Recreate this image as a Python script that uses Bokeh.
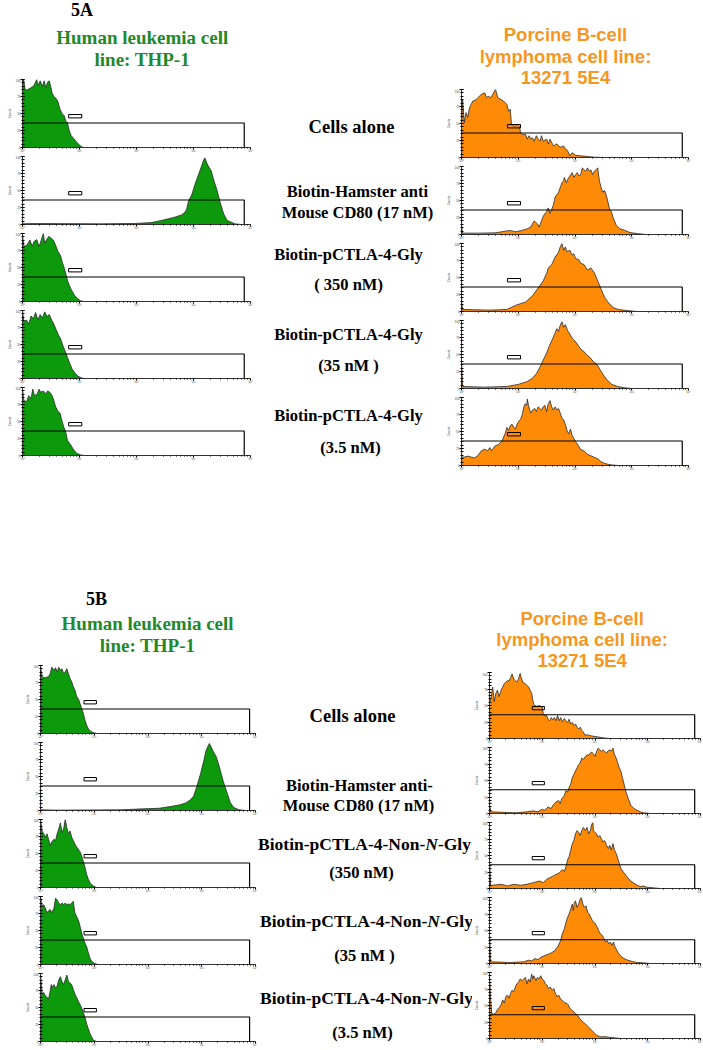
from bokeh.plotting import figure
from bokeh.layouts import row, column
from bokeh.models import Range1d, FixedTicker
from bokeh.core.properties import value
from bokeh.embed import file_html
from bokeh.resources import INLINE

# ---------------- data: (log10 fluorescence, % of max count) ----------------
a_thp1_cells = [(0, 92), (0.02, 100), (0.05, 84), (0.11, 86), (0.17, 89), (0.2, 91), (0.25, 100), (0.27, 91),
                (0.31, 98), (0.35, 90), (0.38, 98), (0.41, 88), (0.44, 96), (0.47, 98), (0.5, 88), (0.52, 80),
                (0.55, 75), (0.58, 73), (0.62, 68), (0.66, 56), (0.7, 49), (0.73, 47), (0.76, 39), (0.79, 36),
                (0.82, 25), (0.85, 18), (0.9, 13), (0.94, 9), (0.98, 5), (1.03, 1.5), (1.07, 0), (4, 0)]
a_thp1_cd80 = [(0, 1), (0.2, 1.4), (1.38, 1), (1.97, 1.5), (2.26, 2.8), (2.44, 6), (2.56, 8.5), (2.67, 10.8),
               (2.79, 14), (2.85, 18), (2.88, 22.5), (2.91, 34), (2.97, 44), (3.03, 60), (3.09, 74), (3.15, 88),
               (3.18, 95), (3.2, 98), (3.23, 91), (3.26, 86), (3.31, 79), (3.35, 67), (3.41, 51), (3.47, 32),
               (3.53, 15.5), (3.59, 6), (3.68, 2.8), (3.73, 0.9), (3.85, 0), (4, 0)]
a_thp1_gly350 = [(0, 98), (0.024, 81), (0.08, 83), (0.13, 90.5), (0.17, 81), (0.2, 88), (0.25, 91), (0.29, 81),
                 (0.32, 88), (0.365, 100), (0.39, 86), (0.42, 90.5), (0.465, 96), (0.5, 93), (0.54, 90.5),
                 (0.58, 83), (0.62, 74), (0.67, 67), (0.7, 57), (0.73, 50), (0.76, 40.5), (0.79, 31), (0.82, 24),
                 (0.86, 16.7), (0.91, 9.5), (0.97, 3.8), (1.02, 1), (1.08, 0), (4, 0)]
a_thp1_gly35 = [(0, 100), (0.024, 84), (0.07, 86), (0.11, 80), (0.15, 92), (0.19, 88), (0.23, 97), (0.27, 86),
                (0.31, 94), (0.35, 89), (0.39, 98), (0.43, 91), (0.47, 94), (0.51, 86), (0.55, 80), (0.59, 72),
                (0.63, 64), (0.67, 58), (0.71, 48), (0.75, 40), (0.79, 31), (0.83, 22), (0.87, 14), (0.92, 8),
                (0.97, 3.5), (1.03, 1), (1.08, 0), (4, 0)]
a_thp1_gly3_5 = [(0, 97.6), (0.024, 81), (0.07, 79), (0.11, 88), (0.15, 83.5), (0.18, 97.6), (0.21, 88),
                 (0.26, 90.6), (0.29, 97.6), (0.32, 93), (0.365, 95), (0.41, 90.6), (0.44, 95), (0.48, 93),
                 (0.52, 88), (0.55, 81), (0.58, 72), (0.62, 65), (0.66, 62), (0.68, 55), (0.72, 43), (0.76, 34),
                 (0.79, 22), (0.85, 15), (0.9, 8), (0.95, 3.3), (1.02, 0.9), (1.08, 0), (4, 0)]

a_5e4_cells = [(0, 50), (0.02, 85), (0.05, 51), (0.08, 66), (0.11, 59), (0.14, 73), (0.17, 78), (0.2, 83),
               (0.26, 85), (0.29, 88), (0.35, 93), (0.41, 95), (0.44, 88), (0.47, 90), (0.52, 88), (0.55, 93),
               (0.6, 100), (0.64, 88), (0.7, 85), (0.74, 83), (0.8, 78), (0.83, 68), (0.86, 71), (0.88, 49),
               (0.93, 46), (0.98, 49), (1.02, 46), (1.04, 37), (1.07, 34), (1.13, 34), (1.16, 27), (1.19, 32),
               (1.22, 27), (1.25, 29), (1.28, 24), (1.32, 32), (1.35, 27), (1.38, 24), (1.41, 32), (1.44, 24),
               (1.5, 27), (1.53, 20), (1.56, 27), (1.62, 17), (1.68, 20), (1.74, 15), (1.8, 17), (1.83, 13),
               (1.87, 10), (1.91, 2.4), (1.95, 7), (2.01, 3.4), (2.1, 2.4), (2.22, 1.5), (2.34, 0.5), (2.52, 0),
               (4, 0)]
a_5e4_cd80 = [(0, 13), (0.02, 2), (0.3, 2), (0.6, 2.5), (0.85, 6), (0.95, 4), (1.07, 6), (1.16, 8.5), (1.22, 11),
              (1.28, 20), (1.34, 15.5), (1.37, 11), (1.44, 27), (1.5, 34), (1.53, 39), (1.56, 31), (1.59, 37),
              (1.62, 44), (1.65, 55), (1.71, 62), (1.74, 69), (1.77, 76), (1.8, 79), (1.81, 84), (1.85, 76),
              (1.87, 81), (1.91, 86), (1.95, 91), (1.98, 84), (2.01, 88), (2.04, 91), (2.07, 86), (2.1, 88),
              (2.13, 98), (2.16, 95), (2.19, 93), (2.22, 98), (2.25, 93), (2.28, 95), (2.31, 88), (2.34, 93),
              (2.37, 95), (2.4, 98), (2.43, 79), (2.46, 69), (2.49, 62), (2.52, 65), (2.55, 58), (2.58, 48),
              (2.61, 37), (2.64, 34), (2.67, 25), (2.73, 13), (2.79, 8.5), (2.88, 6), (2.97, 2.8), (3.1, 1.4),
              (3.25, 0), (4, 0)]
a_5e4_gly350 = [(0, 15), (0.02, 3), (0.5, 2), (0.8, 3), (0.95, 9), (1.13, 14), (1.25, 23), (1.31, 30),
                (1.38, 38), (1.44, 45), (1.5, 56), (1.53, 64), (1.59, 69), (1.65, 80), (1.71, 87), (1.74, 95),
                (1.77, 100), (1.8, 90), (1.83, 95), (1.86, 88), (1.91, 90), (1.95, 83), (1.98, 85), (2.01, 78),
                (2.07, 76), (2.1, 71), (2.16, 69), (2.22, 61), (2.28, 64), (2.34, 57), (2.4, 45), (2.46, 33),
                (2.52, 21), (2.58, 14), (2.67, 6), (2.76, 3), (2.9, 1.5), (3.1, 0), (4, 0)]
a_5e4_gly35 = [(0, 40), (0.02, 3), (0.4, 2), (0.8, 3), (1.0, 6), (1.15, 10), (1.25, 15), (1.32, 22), (1.38, 31),
               (1.44, 42), (1.5, 52), (1.55, 63), (1.6, 72), (1.64, 80), (1.68, 88), (1.71, 84), (1.74, 93),
               (1.77, 98), (1.8, 90), (1.83, 94), (1.87, 85), (1.91, 80), (1.95, 74), (2.0, 70), (2.05, 64),
               (2.1, 58), (2.15, 55), (2.2, 50), (2.26, 46), (2.32, 40), (2.38, 36), (2.44, 28), (2.5, 20),
               (2.57, 12), (2.65, 6), (2.75, 3), (2.88, 1), (3.0, 0), (4, 0)]
a_5e4_gly3_5 = [(0, 12.4), (0.05, 12.4), (0.11, 13.8), (0.17, 12.4), (0.23, 11), (0.29, 14.7), (0.35, 21.7),
                (0.41, 24), (0.46, 21.7), (0.5, 26.3), (0.53, 21.7), (0.59, 28.6), (0.65, 30.9), (0.71, 35.5),
                (0.77, 47), (0.8, 56), (0.83, 51.6), (0.86, 58.5), (0.89, 60.8), (0.92, 56.2), (0.95, 53.9),
                (0.98, 60.8), (1.01, 65.4), (1.04, 67.7), (1.07, 74.7), (1.1, 86.2), (1.12, 90.8), (1.15, 88.5),
                (1.16, 97.7), (1.18, 88.5), (1.21, 79.3), (1.22, 77), (1.25, 81.6), (1.29, 83.9), (1.32, 79.3),
                (1.35, 86.2), (1.38, 83.9), (1.41, 81.6), (1.44, 86.2), (1.47, 88.5), (1.5, 79.3), (1.53, 90.8),
                (1.56, 95.4), (1.59, 86.2), (1.62, 81.6), (1.65, 86.2), (1.68, 81.6), (1.71, 83.9), (1.74, 77),
                (1.77, 69.6), (1.8, 67.3), (1.83, 60.4), (1.86, 51.2), (1.89, 46.5), (1.92, 53.5), (1.95, 44.2),
                (1.98, 39.6), (2.01, 35), (2.07, 28.1), (2.1, 23.5), (2.16, 21.2), (2.22, 16.6), (2.28, 14.3),
                (2.34, 12), (2.4, 10), (2.46, 5.5), (2.52, 3.2), (2.58, 1.8), (2.64, 0.9), (2.76, 0), (4, 0)]

b_thp1_cells = [(0, 100), (0.03, 83), (0.09, 82), (0.15, 84), (0.18, 88), (0.21, 97.6), (0.25, 92.9),
                (0.28, 96.7), (0.31, 90.5), (0.34, 97.6), (0.37, 92.9), (0.4, 95.2), (0.43, 88), (0.46, 90.5),
                (0.49, 95.2), (0.52, 88), (0.55, 81), (0.58, 76), (0.61, 69), (0.64, 64), (0.67, 55), (0.71, 50),
                (0.74, 43), (0.77, 36), (0.8, 28.6), (0.83, 19), (0.86, 12), (0.89, 7), (0.93, 3.3), (0.98, 1.4),
                (1.04, 0), (4, 0)]
b_thp1_cd80 = [(0, 1), (0.3, 0.5), (1.5, 1), (1.9, 2.4), (2.21, 3.3), (2.33, 4.8), (2.45, 6.2), (2.58, 8.1),
               (2.7, 11), (2.79, 15.7), (2.85, 21.4), (2.91, 35.7), (2.98, 54.8), (3.04, 73.8), (3.08, 88.1),
               (3.12, 95.2), (3.14, 98.6), (3.18, 92.9), (3.22, 85.7), (3.26, 81), (3.31, 69), (3.36, 54.8),
               (3.4, 42.9), (3.47, 26.2), (3.53, 11.9), (3.59, 4.8), (3.68, 1.4), (3.8, 0), (4, 0)]
b_thp1_non350 = [(0, 100), (0.03, 83), (0.06, 79), (0.09, 74), (0.12, 79), (0.15, 71), (0.18, 62), (0.21, 67),
                 (0.25, 71), (0.28, 69), (0.31, 79), (0.34, 86), (0.37, 95), (0.4, 81), (0.43, 86), (0.46, 100),
                 (0.49, 88), (0.52, 79), (0.55, 83), (0.58, 74), (0.61, 69), (0.64, 64), (0.67, 60), (0.74, 52),
                 (0.77, 45), (0.8, 38), (0.83, 29), (0.86, 19), (0.89, 12), (0.93, 6), (0.98, 2.4), (1.04, 0),
                 (4, 0)]
b_thp1_non35 = [(0, 100), (0.03, 86), (0.06, 88), (0.09, 83), (0.12, 76), (0.15, 79), (0.18, 81), (0.21, 76),
                (0.25, 83), (0.28, 97.6), (0.31, 95), (0.34, 90.5), (0.37, 88), (0.4, 90.5), (0.43, 88),
                (0.46, 90.5), (0.49, 88), (0.52, 89), (0.55, 88), (0.58, 90.5), (0.61, 93), (0.64, 76), (0.67, 71),
                (0.71, 64), (0.74, 55), (0.77, 45), (0.8, 38), (0.83, 31), (0.86, 26), (0.89, 17), (0.92, 9.5),
                (0.95, 4.8), (1.01, 1.4), (1.07, 0), (4, 0)]
b_thp1_non3_5 = [(0, 100), (0.03, 69.8), (0.06, 72.1), (0.09, 67.4), (0.12, 65.1), (0.15, 62.8), (0.17, 69.8),
                 (0.2, 83.7), (0.21, 79), (0.25, 83.7), (0.28, 79), (0.31, 81.4), (0.34, 90.7), (0.37, 95.3),
                 (0.4, 88.4), (0.43, 83.7), (0.46, 90.7), (0.49, 97.7), (0.52, 88.4), (0.55, 86), (0.58, 83.7),
                 (0.61, 76.7), (0.64, 69.8), (0.67, 65.1), (0.71, 58.1), (0.74, 53.5), (0.77, 48.8), (0.8, 41.9),
                 (0.83, 34.9), (0.86, 25.6), (0.89, 18.6), (0.92, 11.6), (0.95, 7), (0.98, 2.3), (1.04, 0), (4, 0)]

b_5e4_cells = [(0, 53.7), (0.03, 63.4), (0.06, 78), (0.09, 56), (0.12, 68.3), (0.15, 73.2), (0.18, 63.4),
               (0.22, 73.2), (0.25, 78), (0.28, 83), (0.31, 85.4), (0.34, 87.8), (0.37, 86.8), (0.4, 92.7),
               (0.43, 97.6), (0.46, 90.2), (0.49, 87.8), (0.52, 85.4), (0.55, 90.2), (0.58, 98.5), (0.6, 92.7),
               (0.63, 85.4), (0.68, 83), (0.71, 80.5), (0.74, 78), (0.77, 73.2), (0.8, 68.3), (0.82, 58.5),
               (0.84, 51.2), (0.89, 48.8), (0.95, 49.8), (1.0, 47.8), (1.02, 36.6), (1.05, 34.1), (1.08, 35.1),
               (1.11, 29.3), (1.14, 26.8), (1.17, 31.7), (1.2, 28.3), (1.23, 31.7), (1.26, 26.8), (1.29, 35.1),
               (1.32, 26.8), (1.35, 31.7), (1.38, 25.4), (1.42, 30.2), (1.45, 26.8), (1.48, 24.4), (1.51, 29.3),
               (1.54, 22), (1.57, 24.4), (1.6, 19.5), (1.63, 22), (1.66, 17.1), (1.69, 14.6), (1.72, 17.1),
               (1.75, 12.2), (1.78, 9.8), (1.81, 4.9), (1.85, 5.9), (1.88, 4.9), (1.94, 3.9), (2.0, 2.9),
               (2.06, 2.4), (2.15, 1), (2.28, 0), (4, 0)]
b_5e4_cd80 = [(0, 12.4), (0.03, 2.5), (0.5, 1), (0.71, 2.5), (0.83, 4), (0.92, 2.5), (0.98, 6), (1.05, 5),
              (1.11, 9.9), (1.17, 7.4), (1.2, 12.4), (1.26, 17.3), (1.31, 19.8), (1.34, 14.9), (1.37, 22.3),
              (1.42, 27.2), (1.45, 34.7), (1.48, 32.2), (1.51, 39.6), (1.54, 44.6), (1.57, 54.5), (1.6, 59.4),
              (1.63, 64.4), (1.66, 69.3), (1.69, 74.3), (1.72, 76.7), (1.75, 84.2), (1.78, 81.7), (1.82, 86.6),
              (1.85, 89.1), (1.88, 88.1), (1.91, 91.6), (1.94, 93.1), (1.97, 90.1), (2.0, 86.6), (2.03, 94.1),
              (2.06, 99), (2.09, 96.5), (2.12, 94.1), (2.15, 96.5), (2.18, 94.1), (2.22, 91.6), (2.25, 95),
              (2.28, 96.5), (2.31, 94.1), (2.34, 99), (2.37, 89.1), (2.4, 84.2), (2.43, 76.7), (2.46, 69.3),
              (2.49, 64.4), (2.52, 54.5), (2.55, 44.6), (2.58, 34.7), (2.62, 24.8), (2.68, 12.4), (2.74, 7.4),
              (2.8, 5), (2.86, 2.5), (2.92, 1), (3.05, 0), (4, 0)]
b_5e4_non350 = [(0, 40), (0.02, 5), (0.06, 4.9), (0.22, 6.4), (0.34, 3.9), (0.46, 6.4), (0.59, 4.9), (0.71, 6.4),
                (0.83, 8.9), (0.95, 11.3), (1.02, 8.9), (1.08, 13.8), (1.14, 16.3), (1.2, 18.7), (1.26, 21.2),
                (1.32, 23.6), (1.38, 28.6), (1.42, 26.1), (1.45, 33.5), (1.48, 43.3), (1.51, 48.3), (1.54, 58.1),
                (1.57, 68), (1.6, 72.9), (1.63, 82.8), (1.66, 87.7), (1.69, 85.2), (1.72, 80.3), (1.75, 87.7),
                (1.78, 92.6), (1.82, 87.7), (1.85, 92.6), (1.88, 82.8), (1.91, 87.7), (1.94, 97.5), (1.96, 100),
                (1.97, 87.7), (2.0, 85.2), (2.03, 82.8), (2.06, 77.8), (2.09, 80.3), (2.12, 75.4), (2.15, 70.4),
                (2.18, 72.9), (2.22, 65.5), (2.25, 60.6), (2.28, 65.5), (2.31, 58.1), (2.34, 68), (2.37, 58.1),
                (2.4, 53.2), (2.43, 45.8), (2.46, 38.4), (2.49, 30.5), (2.55, 23.6), (2.62, 16.3), (2.68, 11.3),
                (2.74, 7.9), (2.8, 4.9), (2.86, 3), (2.92, 3.9), (2.98, 2), (3.11, 1), (3.23, 0), (4, 0)]
b_5e4_non35 = [(0, 45), (0.02, 2.5), (0.06, 2.5), (0.4, 1.5), (0.65, 2.5), (0.74, 5), (0.8, 4), (0.86, 7.5),
               (0.92, 6), (0.98, 10), (1.05, 12), (1.11, 14), (1.17, 16), (1.23, 19), (1.29, 25), (1.32, 30),
               (1.35, 35), (1.38, 45), (1.42, 52.5), (1.45, 62.5), (1.48, 70), (1.51, 75), (1.54, 82.5), (1.57, 90),
               (1.59, 80), (1.61, 92.5), (1.63, 95), (1.66, 85), (1.69, 90), (1.72, 97.5), (1.74, 100), (1.77, 90),
               (1.8, 85), (1.83, 87.5), (1.86, 77.5), (1.89, 75), (1.92, 70), (1.95, 65), (1.98, 62.5), (2.01, 60),
               (2.04, 55), (2.07, 50), (2.1, 45), (2.14, 42.5), (2.17, 37.5), (2.2, 32.5), (2.23, 35), (2.26, 30),
               (2.29, 32.5), (2.32, 27.5), (2.35, 32.5), (2.38, 25), (2.43, 17.5), (2.49, 11), (2.55, 7.5),
               (2.62, 5), (2.71, 3), (2.8, 1.5), (2.92, 1), (3.05, 0), (4, 0)]
b_5e4_non3_5 = [(0, 97.6), (0.02, 63.4), (0.04, 39), (0.08, 36.6), (0.12, 39), (0.15, 43.9), (0.18, 46.3),
                (0.22, 51.2), (0.25, 58.5), (0.28, 53.7), (0.31, 63.4), (0.34, 65.9), (0.37, 61), (0.4, 68.3),
                (0.43, 73.2), (0.46, 70.7), (0.49, 78), (0.52, 82.9), (0.55, 85.4), (0.58, 90.2), (0.62, 87.8),
                (0.65, 90.2), (0.68, 92.7), (0.71, 82.9), (0.74, 90.2), (0.77, 85.4), (0.8, 97.6), (0.82, 90.2),
                (0.84, 95.1), (0.88, 87.8), (0.91, 92.7), (0.94, 90.2), (0.97, 95.1), (1.0, 90.2), (1.03, 87.8),
                (1.06, 82.9), (1.09, 80.5), (1.12, 75.6), (1.15, 78), (1.19, 73.2), (1.22, 75.6), (1.25, 68.3),
                (1.28, 63.4), (1.31, 65.9), (1.34, 61), (1.37, 58.5), (1.4, 56.1), (1.43, 53.7), (1.46, 53.7),
                (1.49, 51.2), (1.52, 46.3), (1.55, 43.9), (1.58, 41.5), (1.62, 39), (1.65, 36.6), (1.68, 34.1),
                (1.72, 29.3), (1.75, 26.8), (1.78, 24.4), (1.82, 22), (1.85, 19.5), (1.88, 17.1), (1.91, 14.6),
                (1.94, 12.2), (1.97, 9.8), (2.0, 7.3), (2.03, 4.9), (2.06, 3.9), (2.12, 2.4), (2.18, 2.9),
                (2.25, 2), (2.37, 1), (2.49, 0), (4, 0)]

# gate (horizontal region marker) and small marker box, in data units
GATE_TOP = 36
GATE_RIGHT_LOG = 3.89
MARKER_LOG = (0.81, 1.04)
MARKER_Y = (43.5, 48.5)

X_TICKS = [1, 10, 100, 1000, 10000]
X_TICK_LABELS = ["10⁰", "10¹", "10²", "10³", "10⁴"]
Y_AXIS_TITLE = "Counts"

title_green = ["Human leukemia cell", "line: THP-1"]
title_orange = ["Porcine B-cell", "lymphoma cell line:", "13271 5E4"]
labels_a = ["Cells alone", "Biotin-Hamster anti", "Mouse CD80 (17 nM)", "Biotin-pCTLA-4-Gly", "( 350 nM)",
            "Biotin-pCTLA-4-Gly", "(35 nM )", "Biotin-pCTLA-4-Gly", "(3.5 nM)"]
labels_b = ["Cells alone", "Biotin-Hamster anti-", "Mouse CD80 (17 nM)", "(350 nM)", "(35 nM )", "(3.5 nM)"]
non_n_parts = ["Biotin-pCTLA-4-Non-", "N", "-Gly"]

GREEN_FILL = "#0c9a0c"
GREEN_TEXT = "#22892a"
ORANGE_FILL = "#ff8a05"
ORANGE_TEXT = "#f7961f"
SERIF = value("Liberation Serif")
SANS = value("Liberation Sans")


def panel(data, fill, bl, fw, br, bt, fh, bb):
    xs = [10 ** d for d, _ in data]
    ys = [c for _, c in data]
    p = figure(width=bl + fw + br, height=bt + fh + bb, x_axis_type="log",
               x_range=Range1d(1, 10 ** 4), y_range=Range1d(0, 100),
               output_backend="svg", toolbar_location=None,
               min_border_left=bl, min_border_right=br, min_border_top=bt, min_border_bottom=bb,
               background_fill_color="white", border_fill_color="white")
    p.varea(x=xs, y1=0, y2=ys, fill_color=fill, fill_alpha=1.0)
    p.line(x=xs, y=ys, line_color="#2a2a2a", line_width=0.8)
    p.quad(left=[1], right=[10 ** GATE_RIGHT_LOG], bottom=[0], top=[GATE_TOP],
           fill_color=None, line_color="black", line_width=1.2)
    p.quad(left=[10 ** MARKER_LOG[0]], right=[10 ** MARKER_LOG[1]], bottom=[MARKER_Y[0]], top=[MARKER_Y[1]],
           fill_color=None, line_color="black", line_width=1)
    p.grid.visible = False
    p.outline_line_color = None
    xa = p.xaxis[0]
    xa.ticker = FixedTicker(ticks=X_TICKS,
                            minor_ticks=[m * 10 ** k for k in range(4) for m in range(2, 10)])
    xa.major_label_overrides = dict(zip(X_TICKS, X_TICK_LABELS))
    xa.major_label_text_font_size = "3px"
    xa.major_label_standoff = 0
    xa.major_tick_out = 2
    xa.major_tick_in = 0
    xa.minor_tick_out = 1
    xa.minor_tick_in = 0
    xa.axis_line_color = "#333333"
    ya = p.yaxis[0]
    ya.ticker = FixedTicker(ticks=[0, 25, 50, 75, 100], minor_ticks=list(range(0, 101, 5)))
    ya.major_label_text_font_size = "3px"
    ya.major_label_standoff = 0
    ya.major_tick_out = 2
    ya.major_tick_in = 2
    ya.minor_tick_out = 1
    ya.minor_tick_in = 2
    ya.axis_line_color = "#333333"
    ya.axis_label = Y_AXIS_TITLE
    ya.axis_label_text_font_size = "3px"
    ya.axis_label_text_font_style = "normal"
    ya.axis_label_standoff = 1
    return p


def text_fig(x0, y0, w, h):
    p = figure(width=w, height=h, x_range=Range1d(x0, x0 + w), y_range=Range1d(y0 + h, y0),
               x_axis_location=None, y_axis_location=None, output_backend="svg",
               toolbar_location=None, min_border=0, border_fill_color="white")
    p.grid.visible = False
    p.outline_line_color = None
    return p


def put(p, xs, ys, texts, font, size, color, style="bold", align="center"):
    p.text(x=xs, y=ys, text=texts, text_font=font, text_font_size=size, text_font_style=style,
           text_color=color, text_align=align, text_baseline="middle")


def put_non_n(p, cx, cy, size_px):
    # em widths (Times-metric bold / bold-italic) for the three runs
    w1, wn, w2 = 9.556 * size_px, 0.722 * size_px, 1.889 * size_px
    xn = cx - (w1 + wn + w2) / 2 + w1
    sz = "%gpx" % size_px
    put(p, [xn], [cy], [non_n_parts[0]], SERIF, sz, "black", align="right")
    put(p, [xn], [cy], [non_n_parts[1]], SERIF, sz, "black", style="bold italic", align="left")
    put(p, [xn + wn], [cy], [non_n_parts[2]], SERIF, sz, "black", align="left")


# ---------------- section A (page y 0..473) ----------------
hdr_la = text_fig(0, 0, 257, 78)
put(hdr_la, [67], [9], ["5A"], SERIF, "18px", "black")
put(hdr_la, [135, 135], [37, 59], title_green, SERIF, "19px", GREEN_TEXT)

hdr_ra = text_fig(440, 0, 262, 89)
put(hdr_ra, [560, 560, 560], [34, 56, 77], title_orange, SANS, "18.5px", ORANGE_TEXT)

mid_a = text_fig(257, 0, 183, 473)
put(mid_a, [351], [126], labels_a[:1], SERIF, "18.5px", "black")
put(mid_a, [357, 357, 348, 348, 348, 348, 348, 350], [191, 212, 254, 284, 334, 365, 415, 447],
    labels_a[1:], SERIF, "16.5px", "black")

left_a = [panel(d, GREEN_FILL, 22, 228, 7, 1, 70, 6)
          for d in [a_thp1_cells, a_thp1_cd80, a_thp1_gly350, a_thp1_gly35, a_thp1_gly3_5]]
right_a = [panel(a_5e4_cells, ORANGE_FILL, 21, 227, 14, 0, 69, 7)] + \
          [panel(d, ORANGE_FILL, 21, 227, 14, 1, 69, 7)
           for d in [a_5e4_cd80, a_5e4_gly350, a_5e4_gly35, a_5e4_gly3_5]]

sec_a = row(column(hdr_la, *left_a), mid_a, column(hdr_ra, *right_a))

# ---------------- section B (page y 473..1049) ----------------
hdr_lb = text_fig(0, 473, 257, 191)
put(hdr_lb, [67], [598], ["5B"], SERIF, "18px", "black")
put(hdr_lb, [128, 128], [623, 645], title_green, SERIF, "19px", GREEN_TEXT)

hdr_rb = text_fig(472, 473, 230, 199)
put(hdr_rb, [573, 573, 573], [618, 639, 660], title_orange, SANS, "18.5px", ORANGE_TEXT)

mid_b = text_fig(257, 473, 215, 576)
put(mid_b, [352], [715], labels_b[:1], SERIF, "18.5px", "black")
put(mid_b, [359, 358, 361, 364, 362], [785, 805, 872, 955, 1032], labels_b[1:], SERIF, "16.5px", "black")
for cx, cy in [(364, 843), (366, 920), (366, 997)]:
    put_non_n(mid_b, cx, cy, 17.5)

left_b = [panel(d, GREEN_FILL, 40, 215, 2, 1, 70, 6)
          for d in [b_thp1_cells, b_thp1_cd80, b_thp1_non350, b_thp1_non35, b_thp1_non3_5]]
right_b = [panel(b_5e4_cells, ORANGE_FILL, 14, 214, 2, 0, 68, 6)] + \
          [panel(d, ORANGE_FILL, 14, 214, 2, 1, 68, 6)
           for d in [b_5e4_cd80, b_5e4_non350, b_5e4_non35, b_5e4_non3_5]]

sec_b = row(column(hdr_lb, *left_b), mid_b, column(hdr_rb, *right_b))

page = column(sec_a, sec_b)
open("out.html", "w").write(file_html(page, INLINE))
